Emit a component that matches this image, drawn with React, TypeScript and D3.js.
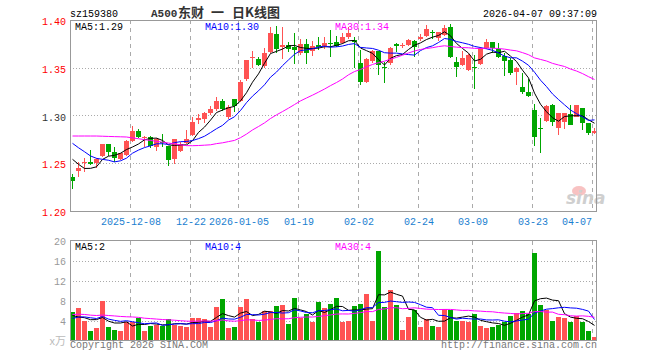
import React from 'react';
import * as d3 from 'd3';

const openP = [1.2353,1.2419,1.2509,1.2516,1.2506,1.2576,1.2705,1.2618,1.2541,1.2586,1.2736,1.2838,1.2767,1.2772,1.2667,1.2726,1.2681,1.2541,1.2631,1.2709,1.2796,1.2955,1.2966,1.3029,1.3065,1.3155,1.2987,1.3173,1.3152,1.3379,1.3599,1.3589,1.3518,1.3668,1.3853,1.3720,1.3738,1.3720,1.3651,1.3749,1.3679,1.3738,1.3728,1.3762,1.3773,1.3756,1.3819,1.3791,1.3553,1.3348,1.3574,1.3679,1.3505,1.3547,1.3749,1.3733,1.3738,1.3783,1.3804,1.3832,1.3872,1.3808,1.3843,1.3930,1.3563,1.3529,1.3476,1.3512,1.3539,1.3704,1.3773,1.3693,1.3623,1.3581,1.3459,1.3302,1.3249,1.3058,1.2870,1.2946,1.3110,1.2866,1.2935,1.3016,1.2988,1.3075,1.2918,1.2814];
const highP = [1.2387,1.2513,1.2552,1.2639,1.2552,1.2705,1.2705,1.2673,1.2610,1.2743,1.2893,1.2859,1.2790,1.2790,1.2760,1.2806,1.2681,1.2757,1.2726,1.2848,1.2987,1.3013,1.3040,1.3100,1.3191,1.3175,1.3110,1.3173,1.3372,1.3581,1.3675,1.3609,1.3707,1.3930,1.3937,1.3924,1.3773,1.3867,1.3797,1.3798,1.3783,1.3819,1.3826,1.3895,1.3833,1.3867,1.3923,1.3826,1.3686,1.3600,1.3686,1.3679,1.3563,1.3716,1.3762,1.3762,1.3801,1.3791,1.3849,1.3948,1.3895,1.3878,1.3948,1.3958,1.3616,1.3679,1.3641,1.3634,1.3716,1.3797,1.3773,1.3762,1.3651,1.3600,1.3511,1.3441,1.3379,1.3120,1.2971,1.3110,1.3120,1.3023,1.3023,1.3110,1.3110,1.3075,1.2925,1.2866];
const lowP = [1.2227,1.2353,1.2412,1.2482,1.2447,1.2570,1.2576,1.2517,1.2530,1.2576,1.2726,1.2761,1.2670,1.2660,1.2631,1.2673,1.2474,1.2492,1.2620,1.2702,1.2788,1.2911,1.2918,1.3005,1.3050,1.3050,1.2967,1.3040,1.3145,1.3361,1.3494,1.3518,1.3497,1.3651,1.3651,1.3589,1.3668,1.3539,1.3630,1.3539,1.3623,1.3686,1.3693,1.3616,1.3714,1.3749,1.3798,1.3494,1.3319,1.3340,1.3550,1.3424,1.3343,1.3527,1.3668,1.3704,1.3728,1.3616,1.3784,1.3825,1.3798,1.3784,1.3832,1.3599,1.3400,1.3518,1.3469,1.3274,1.3529,1.3693,1.3651,1.3600,1.3414,1.3424,1.3319,1.3228,1.3191,1.2681,1.2610,1.2935,1.2890,1.2796,1.2856,1.2901,1.2985,1.2848,1.2796,1.2806];
const closeP = [1.2317,1.2447,1.2513,1.2496,1.2541,1.2705,1.2615,1.2558,1.2604,1.2736,1.2838,1.2772,1.2775,1.2681,1.2751,1.2715,1.2537,1.2751,1.2702,1.2757,1.2935,1.2970,1.3029,1.3065,1.3155,1.3065,1.3092,1.3100,1.3354,1.3581,1.3616,1.3529,1.3658,1.3861,1.3693,1.3738,1.3693,1.3686,1.3749,1.3651,1.3728,1.3714,1.3756,1.3749,1.3728,1.3819,1.3861,1.3773,1.3354,1.3588,1.3679,1.3529,1.3495,1.3704,1.3728,1.3738,1.3791,1.3720,1.3825,1.3903,1.3862,1.3878,1.3913,1.3616,1.3505,1.3599,1.3634,1.3500,1.3704,1.3773,1.3704,1.3609,1.3574,1.3448,1.3494,1.3249,1.3204,1.2778,1.2866,1.3100,1.2935,1.3023,1.3023,1.2901,1.3110,1.2925,1.2820,1.2838];
const volumes = [5.9,6.6,4.1,2.1,2.7,8.0,2.9,2.3,2.1,3.9,3.8,4.6,2.1,3.1,3.3,3.1,4.5,3.3,3.1,2.9,4.7,4.7,4.4,2.9,6.9,8.5,2.7,2.9,6.9,8.5,4.4,3.9,6.1,6.1,7.1,7.3,3.4,8.7,4.6,5.4,3.9,7.9,6.7,7.5,8.7,3.7,4.1,7.1,7.5,9.5,4.1,18.1,6.9,10.3,7.3,2.3,4.9,6.3,2.9,4.5,3.1,2.9,6.5,6.3,4.1,4.1,3.9,5.5,3.1,2.7,2.9,3.3,3.7,5.1,5.7,6.1,5.5,17.7,7.3,6.3,4.1,4.9,4.7,3.9,5.1,3.7,2.1,0.8];
// closes and volumes of the 29 sessions before the first visible one (estimated from the MA lines)
const priorClose = [1.245,1.251,1.250,1.254,1.277,1.268,1.262,1.266,1.280,1.311,1.304,1.305,1.295,1.302,1.299,1.281,1.302,1.297,1.303,1.295,1.291,1.293,1.294,1.279,1.281,1.271,1.273,1.249,1.246];
const priorVolume = [5.0,5.5,6.2,4.8,5.3,5.6,4.9,5.2,5.8,5.1,6.8,7.2,5.5,6.0,5.9,6.3,5.6,6.1,5.4,5.8,3.5,4.0,3.8,4.2,4.0,8.1,4.8,4.1,2.6];

const tickIndex = [10, 20, 28, 38, 48, 58, 67, 77, 87];
const tickLabels = ['2025-12-08', '12-22', '2026-01-05', '01-19', '02-02', '02-24', '03-09', '03-23', '04-07'];
const priceTicks = [1.2, 1.25, 1.3, 1.35, 1.4];
const priceTickColors = ['#f00', '#f00', '#333', '#f00', '#f00'];
const volTicks = [4, 8, 12, 16, 20];
const priceMaLabels = ['MA5:1.29', 'MA10:1.30', 'MA30:1.34'];
const volMaLabels = ['MA5:2', 'MA10:4', 'MA30:4'];
const maPeriods = [5, 10, 30];
const maColors = ['#000', '#00f', '#f0f'];

const RED = '#ff5353';
const GREEN = '#00a600';
const GRID = '#aaa';
const BORDER = '#999';
const MONO = '"Liberation Mono", "DejaVu Sans Mono", monospace';
const CJK = '"Noto Sans CJK SC", sans-serif';

function movingAverage(prior: number[], vals: number[], n: number): number[] {
  const all = prior.concat(vals);
  const off = prior.length;
  return vals.map((_, i) => d3.mean(all.slice(off + i - n + 1, off + i + 1)) as number);
}

export default function App() {
  const L = 70, R = 596;
  const x = d3.scaleLinear().domain([0, 87]).range([72, 72 + 6 * 87]);
  const yP = d3.scaleLinear().domain([1.2, 1.4]).range([211, 20]);
  const yV = d3.scaleLinear().domain([0, 20]).range([341, 241]);

  const priceMA = maPeriods.map((n) => movingAverage(priorClose, closeP, n));
  const volMA = maPeriods.map((n) => movingAverage(priorVolume, volumes, n));

  const lineP = d3.line<number>().x((_, i) => x(i) + 0.5).y((d) => yP(d));
  const lineV = d3.line<number>().x((_, i) => x(i) + 0.5).y((d) => yV(d));

  const gridX = tickIndex.map((i) => Math.round(x(i)) - 2 + 0.5);

  return (
    <svg width={660} height={360} style={{ position: 'absolute', left: 0, top: 0, background: '#fff' }}>
      {/* header */}
      <text x={70} y={16.5} fontFamily={MONO} fontSize={10} fill="#000">sz159380</text>
      <text y={17} fill="#333" fontWeight="bold">
        <tspan x={151} fontFamily={MONO} fontSize={11}>A500</tspan>
        <tspan x={178} fontFamily={CJK} fontSize={13}>东财</tspan>
        <tspan x={211} fontFamily={CJK} fontSize={13}>一</tspan>
        <tspan x={232} fontFamily={CJK} fontSize={13}>日K线图</tspan>
      </text>
      <text x={597} y={16.5} fontFamily={MONO} fontSize={10} fill="#000" textAnchor="end">2026-04-07 09:37:09</text>

      {/* price panel grid */}
      {priceTicks.slice(1, 4).map((t) => (
        <line key={'pg' + t} x1={L} x2={R} y1={Math.round(yP(t)) + 0.5} y2={Math.round(yP(t)) + 0.5} stroke={GRID} strokeDasharray="1,2" />
      ))}
      {gridX.map((gx, k) => (
        <line key={'pv' + k} x1={gx} x2={gx} y1={20} y2={211} stroke={GRID} strokeDasharray="4,4" />
      ))}
      {/* volume panel grid */}
      {volTicks.slice(0, 4).map((t) => (
        <line key={'vg' + t} x1={L} x2={R} y1={Math.round(yV(t)) + 0.5} y2={Math.round(yV(t)) + 0.5} stroke={GRID} strokeDasharray="1,2" />
      ))}
      {gridX.map((gx, k) => (
        <line key={'vv' + k} x1={gx} x2={gx} y1={241} y2={341} stroke={GRID} strokeDasharray="4,4" />
      ))}

      {/* sina watermark */}
      <ellipse cx={579} cy={191} rx={7} ry={5} fill="#f6b3b3" opacity={0.8} />
      <text x={566} y={204} fontFamily='"DejaVu Sans", sans-serif' fontSize={17} fontStyle="italic" fontWeight="bold" fill="#cfcfcf">sina</text>

      {/* candles */}
      {closeP.map((c, i) => {
        const o = openP[i];
        const up = c >= o;
        const col = up ? RED : GREEN;
        const cx = Math.round(x(i));
        const top = Math.round(yP(Math.max(o, c)));
        const bot = Math.round(yP(Math.min(o, c)));
        return (
          <g key={'c' + i}>
            <rect x={cx} y={Math.round(yP(highP[i]))} width={1} height={Math.max(1, Math.round(yP(lowP[i])) - Math.round(yP(highP[i])))} fill={col} />
            <rect x={cx - 2} y={top} width={5} height={Math.max(1, bot - top)} fill={col} />
          </g>
        );
      })}
      {priceMA.map((m, k) => (
        <path key={'pm' + k} d={lineP(m) || ''} fill="none" stroke={maColors[k]} strokeWidth={1} />
      ))}

      {/* volume bars */}
      {volumes.map((v, i) => {
        const up = closeP[i] >= openP[i];
        const cx = Math.round(x(i));
        const top = Math.round(yV(v));
        return <rect key={'v' + i} x={cx - 2} y={top} width={5} height={341 - top} fill={up ? RED : GREEN} />;
      })}
      {volMA.map((m, k) => (
        <path key={'vm' + k} d={lineV(m) || ''} fill="none" stroke={maColors[k]} strokeWidth={1} />
      ))}

      {/* borders */}
      <rect x={L + 0.5} y={20.5} width={R - L} height={191} fill="none" stroke={BORDER} />
      <rect x={L + 0.5} y={240.5} width={R - L} height={100} fill="none" stroke={BORDER} />

      {/* price axis labels */}
      {priceTicks.map((t, k) => (
        <text key={'pl' + t} x={66} y={yP(t) + 5} fontFamily={MONO} fontSize={10} fill={priceTickColors[k]} textAnchor="end">{t.toFixed(2)}</text>
      ))}
      {volTicks.map((t) => (
        <text key={'vl' + t} x={66} y={yV(t) + 3.5} fontFamily={MONO} fontSize={10} fill="#999" textAnchor="end">{t}</text>
      ))}
      <text x={66} y={345} fontFamily={CJK} fontSize={11} fill="#bbb" textAnchor="end">x万</text>

      {/* x axis labels */}
      {tickIndex.map((i, k) => {
        const w = tickLabels[k].length * 6;
        const cx = Math.min(x(i) - 1, 592 - w / 2);
        return (
          <text key={'xl' + k} x={cx} y={225} fontFamily={MONO} fontSize={10} fill="#1a80d0" textAnchor="middle">{tickLabels[k]}</text>
        );
      })}

      {/* MA legends */}
      {priceMaLabels.map((s, k) => (
        <text key={'pml' + k} x={[75, 205, 335][k]} y={29.5} fontFamily={MONO} fontSize={10} fill={maColors[k]}>{s}</text>
      ))}
      {volMaLabels.map((s, k) => (
        <text key={'vml' + k} x={[75, 205, 335][k]} y={250} fontFamily={MONO} fontSize={10} fill={maColors[k]}>{s}</text>
      ))}

      {/* footer */}
      <text x={70} y={348} fontFamily={MONO} fontSize={10} fill="#777">Copyright 2026 SINA.COM</text>
      <text x={597} y={348} fontFamily={MONO} fontSize={10} fill="#777" textAnchor="end">http://finance.sina.com.cn</text>
    </svg>
  );
}
